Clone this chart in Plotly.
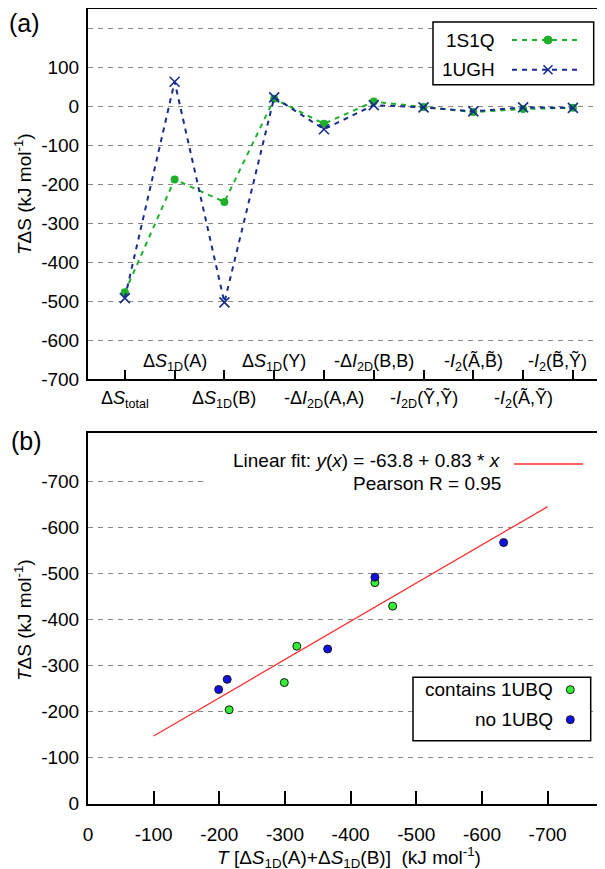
import plotly.graph_objects as go

# ---------------- data ----------------
categories = [
    "Δ<i>S</i><sub>total</sub>",
    "Δ<i>S</i><sub>1D</sub>(A)",
    "Δ<i>S</i><sub>1D</sub>(B)",
    "Δ<i>S</i><sub>1D</sub>(Y)",
    "-Δ<i>I</i><sub>2D</sub>(A,A)",
    "-Δ<i>I</i><sub>2D</sub>(B,B)",
    "-<i>I</i><sub>2D</sub>(Ỹ,Ỹ)",
    "-<i>I</i><sub>2</sub>(Ã,B̃)",
    "-<i>I</i><sub>2</sub>(Ã,Ỹ)",
    "-<i>I</i><sub>2</sub>(B̃,Ỹ)",
]
s1q_values = [-477, -187, -245, 20, -44, 13, -1, -14, -6, -3]
ugh_values = [-492, 64, -503, 24, -58, 4, -2, -12, -2, -3]
top_yticks = [-700, -600, -500, -400, -300, -200, -100, 0, 100, 200]
top_yticktext = ["-700", "-600", "-500", "-400", "-300", "-200", "-100", "0", "100", ""]

ubq_x = [-437, -464, -318, -299, -215]
ubq_y = [-480, -429, -342, -263, -204]
noubq_x = [-633, -437, -365, -212, -199]
noubq_y = [-567, -492, -336, -270, -248]
fit_x = [-100, -700]
fit_y = [-147, -645]
bottom_xticks = [0, -100, -200, -300, -400, -500, -600, -700]
bottom_yticks = [0, -100, -200, -300, -400, -500, -600, -700]

# ---------------- styling ----------------
W, H = 605, 869
FONT = "Liberation Sans, Arial, sans-serif"
FS = 19
GREEN = "#1fb02a"
NAVY = "#182c8c"
LGREEN = "#33ee33"
BLUE = "#1010e6"
RED = "#ff3030"
DASH = "5px,5px"


def px(x):
    return x / W


def py(y):
    return 1 - y / H


fig = go.Figure()

fig.add_trace(go.Scatter(
    x=list(range(len(categories))), y=s1q_values, mode="lines+markers",
    line=dict(color=GREEN, width=2, dash=DASH),
    marker=dict(symbol="circle", size=8, color=GREEN),
    xaxis="x", yaxis="y", showlegend=False, name="1S1Q"))
fig.add_trace(go.Scatter(
    x=list(range(len(categories))), y=ugh_values, mode="lines+markers",
    line=dict(color=NAVY, width=2, dash=DASH),
    marker=dict(symbol="x-thin", size=10, color=NAVY, line=dict(color=NAVY, width=1.6)),
    xaxis="x", yaxis="y", showlegend=False, name="1UGH"))

fig.add_trace(go.Scatter(
    x=fit_x, y=fit_y, mode="lines", line=dict(color=RED, width=1.3),
    xaxis="x2", yaxis="y2", showlegend=False))
fig.add_trace(go.Scatter(
    x=ubq_x, y=ubq_y, mode="markers",
    marker=dict(symbol="circle", size=8, color=LGREEN, line=dict(color="#1a1a1a", width=1)),
    xaxis="x2", yaxis="y2", showlegend=False, name="contains 1UBQ"))
fig.add_trace(go.Scatter(
    x=noubq_x, y=noubq_y, mode="markers",
    marker=dict(symbol="circle", size=8, color=BLUE, line=dict(color="#1a1a1a", width=1)),
    xaxis="x2", yaxis="y2", showlegend=False, name="no 1UBQ"))

axis_common = dict(showline=True, linewidth=2, linecolor="black", mirror=True,
                   zeroline=False, automargin=False,
                   tickfont=dict(family=FONT, size=FS, color="black"))

fig.update_layout(
    width=W, height=H, margin=dict(l=0, r=0, t=0, b=0, autoexpand=False),
    paper_bgcolor="white", plot_bgcolor="white",
    font=dict(family=FONT, size=FS, color="black"),
    xaxis=dict(domain=[px(80), px(602)], range=[-0.74, 9.745], anchor="y",
               tickvals=list(range(len(categories))), showticklabels=False,
               ticks="inside", ticklen=9, tickwidth=2, tickcolor="black",
               showgrid=False, **axis_common),
    yaxis=dict(domain=[py(371), py(1)], range=[-700, 251], anchor="x",
               tickvals=top_yticks, ticktext=top_yticktext, ticks="",
               ticklabelstandoff=3,
               showgrid=True, gridcolor="#888888", gridwidth=1, griddash=DASH,
               **axis_common),
    xaxis2=dict(domain=[px(80), px(602)], range=[0, -795], anchor="y2",
                tickvals=bottom_xticks, ticktext=[str(v) for v in bottom_xticks],
                ticks="inside", ticklen=13, tickwidth=2, tickcolor="black",
                ticklabelstandoff=12,
                showgrid=False, **axis_common),
    yaxis2=dict(domain=[py(795.7), py(425)], range=[0, -805], anchor="x2",
                tickvals=bottom_yticks, ticktext=[str(v) for v in bottom_yticks],
                ticks="", ticklabelstandoff=3,
                showgrid=True, gridcolor="#888888", gridwidth=1, griddash=DASH,
                **axis_common),
)

shapes = []
# opaque box behind fit key text (b)
shapes.append(dict(type="rect", xref="paper", yref="paper",
                   x0=px(195), x1=px(592), y0=py(497), y1=py(432),
                   fillcolor="white", line=dict(width=0), layer="above"))
# legend (a)
shapes.append(dict(type="rect", xref="paper", yref="paper",
                   x0=px(425), x1=px(585.7), y0=py(76.7), y1=py(14),
                   fillcolor="white", line=dict(color="black", width=1.5), layer="above"))
for yy, col in [(32, GREEN), (61.7, NAVY)]:
    shapes.append(dict(type="line", xref="paper", yref="paper",
                       x0=px(504), x1=px(574), y0=py(yy), y1=py(yy),
                       line=dict(color=col, width=2, dash=DASH), layer="above"))
shapes.append(dict(type="circle", xref="paper", yref="paper",
                   x0=px(536), x1=px(544), y0=py(36), y1=py(28),
                   fillcolor=GREEN, line=dict(color=GREEN, width=1), layer="above"))
for (a, b, c, d) in [(535.5, 57.2, 544.5, 66.2), (535.5, 66.2, 544.5, 57.2)]:
    shapes.append(dict(type="line", xref="paper", yref="paper",
                       x0=px(a), y0=py(b), x1=px(c), y1=py(d),
                       line=dict(color=NAVY, width=1.6), layer="above"))
# legend (b)
shapes.append(dict(type="rect", xref="paper", yref="paper",
                   x0=px(405), x1=px(582.7), y0=py(732.7), y1=py(669.3),
                   fillcolor="white", line=dict(color="black", width=1.5), layer="above"))
for yy, col in [(681.7, LGREEN), (711.7, BLUE)]:
    shapes.append(dict(type="circle", xref="paper", yref="paper",
                       x0=px(558.3), x1=px(566.3), y0=py(yy + 4), y1=py(yy - 4),
                       fillcolor=col, line=dict(color="#1a1a1a", width=1), layer="above"))
# fit key sample
shapes.append(dict(type="line", xref="paper", yref="paper",
                   x0=px(506), x1=px(575), y0=py(456), y1=py(456),
                   line=dict(color=RED, width=1.3), layer="above"))
fig.update_layout(shapes=shapes)

TXT = dict(family=FONT, size=FS, color="black")
CAT = dict(family=FONT, size=18, color="black")
ann = []
# category labels, alternating below / above the axis
n_cat = len(categories)
for i, lab in enumerate(categories):
    above = (i % 2 == 1)
    last = (i == n_cat - 1)
    ann.append(dict(x=i, y=0, xref="x", yref="y domain", text=lab, showarrow=False,
                    xanchor="right" if last else "center", yanchor="middle",
                    xshift=16 if last else 0,
                    yshift=17 if above else -20, font=CAT))
# legend texts
ann.append(dict(x=px(489), y=py(32), xref="paper", yref="paper", text="1S1Q",
                showarrow=False, xanchor="right", yanchor="middle", font=TXT))
ann.append(dict(x=px(489), y=py(61.7), xref="paper", yref="paper", text="1UGH",
                showarrow=False, xanchor="right", yanchor="middle", font=TXT))
ann.append(dict(x=px(546.7), y=py(681.7), xref="paper", yref="paper", text="contains 1UBQ",
                showarrow=False, xanchor="right", yanchor="middle", font=TXT))
ann.append(dict(x=px(546.7), y=py(711.7), xref="paper", yref="paper", text="no 1UBQ",
                showarrow=False, xanchor="right", yanchor="middle", font=TXT))
ann.append(dict(x=px(495), y=py(452), xref="paper", yref="paper",
                text="Linear fit: <i>y</i>(<i>x</i>) = -63.8 + 0.83 * <i>x</i>",
                showarrow=False, xanchor="right", yanchor="middle", font=TXT))
ann.append(dict(x=px(495), y=py(475), xref="paper", yref="paper",
                text="Pearson R = 0.95",
                showarrow=False, xanchor="right", yanchor="middle", font=TXT))
# axis titles
ytitle = "<i>T</i>ΔS (kJ mol<sup>-1</sup>)"
ann.append(dict(x=px(15), y=py(186), xref="paper", yref="paper", text=ytitle,
                textangle=-90, showarrow=False, xanchor="center", yanchor="middle", font=TXT))
ann.append(dict(x=px(15), y=py(612), xref="paper", yref="paper", text=ytitle,
                textangle=-90, showarrow=False, xanchor="center", yanchor="middle", font=TXT))
ann.append(dict(x=px(341), y=py(849), xref="paper", yref="paper",
                text="<i>T</i> [Δ<i>S</i><sub>1D</sub>(A)+Δ<i>S</i><sub>1D</sub>(B)]  (kJ mol<sup>-1</sup>)",
                showarrow=False, xanchor="center", yanchor="middle", font=TXT))
# panel labels
PL = dict(family=FONT, size=25, color="black")
ann.append(dict(x=px(16), y=py(15), xref="paper", yref="paper", text="(a)",
                showarrow=False, xanchor="center", yanchor="middle", font=PL))
ann.append(dict(x=px(18), y=py(433), xref="paper", yref="paper", text="(b)",
                showarrow=False, xanchor="center", yanchor="middle", font=PL))
fig.update_layout(annotations=ann)

fig.write_html("out.html")
